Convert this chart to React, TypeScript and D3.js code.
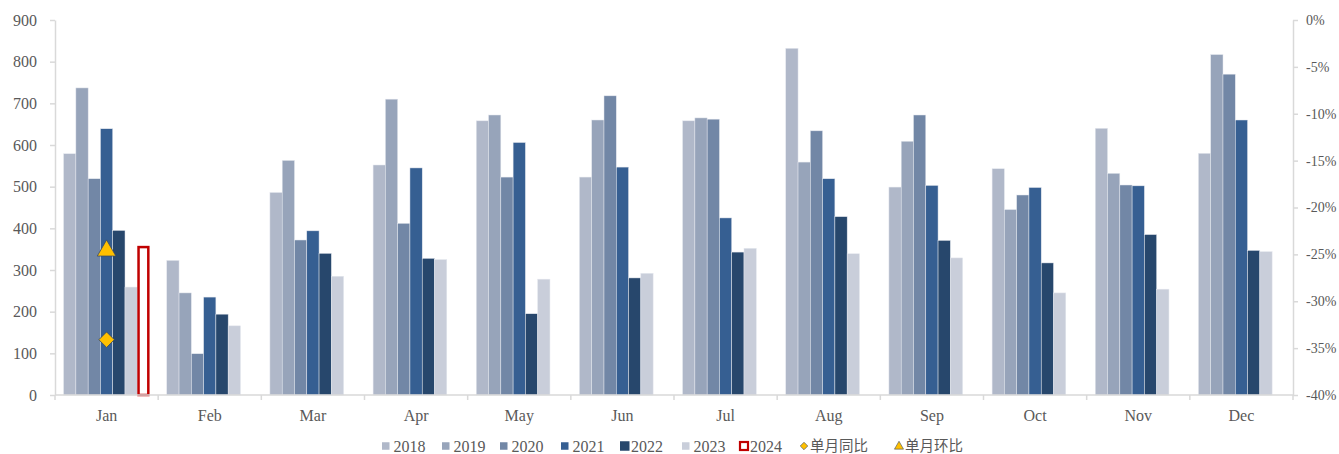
import { useEffect, useRef } from "react";
import * as d3 from "d3";

const months = ["Jan", "Feb", "Mar", "Apr", "May", "Jun", "Jul", "Aug", "Sep", "Oct", "Nov", "Dec"];
const years = ["2018", "2019", "2020", "2021", "2022", "2023", "2024"];

const v2018 = [579, 323, 486, 552, 658, 523, 658, 832, 499, 543, 640, 580];
const v2019 = [737, 245, 563, 710, 672, 660, 665, 559, 609, 445, 532, 817];
const v2020 = [519, 99, 372, 412, 523, 718, 662, 634, 672, 480, 504, 770];
const v2021 = [639, 235, 394, 545, 606, 547, 425, 519, 503, 498, 502, 660];
const v2022 = [395, 194, 340, 328, 195, 281, 343, 428, 371, 317, 385, 347];
const v2023 = [259, 166, 285, 325, 278, 292, 352, 339, 329, 245, 254, 344];
const v2024 = [358, null, null, null, null, null, null, null, null, null, null, null];

// right axis, Jan only
const yoy = [-0.341];
const mom = [-0.245];

const leftTicks = [0, 100, 200, 300, 400, 500, 600, 700, 800, 900];
const rightTicks = [0, -0.05, -0.1, -0.15, -0.2, -0.25, -0.3, -0.35, -0.4];

const colors = ["#b0b8c9", "#97a4ba", "#7287a6", "#365f92", "#27476c", "#c9ceda", "#ffffff"];
const font = "'Liberation Serif', 'Times New Roman', serif";
const cjkFont = "'Noto Sans CJK SC', sans-serif";
const textColor = "#595959";
const axisColor = "#d9d9d9";

const App = () => {
  const svgRef = useRef();

  useEffect(() => {
    const width = 1339;
    const height = 454;
    const margin = { top: 20, left: 55, right: 46, bottom: 59 };
    const svg = d3.select(svgRef.current);
    svg.selectAll("*").remove();

    const series = [v2018, v2019, v2020, v2021, v2022, v2023, v2024];
    const bottomY = height - margin.bottom;

    const x0 = d3
      .scaleBand()
      .domain(months)
      .range([margin.left, width - margin.right])
      .paddingInner(0)
      .paddingOuter(0);

    const x1 = d3
      .scaleBand()
      .domain(years)
      .range([0, x0.bandwidth()])
      .paddingInner(0)
      .paddingOuter(0.7);

    const yScale = d3.scaleLinear().domain([0, 900]).range([bottomY, margin.top]);
    const yRight = d3.scaleLinear().domain([-0.4, 0]).range([bottomY, margin.top]);

    // bars
    series.forEach((vals, si) => {
      const g = svg.append("g");
      months.forEach((m, mi) => {
        const v = vals[mi];
        if (v == null) return;
        const bx = x0(m) + x1(years[si]);
        const by = yScale(v);
        if (years[si] === "2024") {
          g.append("rect")
            .attr("x", bx + 1.25)
            .attr("y", by + 1.25)
            .attr("width", x1.bandwidth() - 2.5)
            .attr("height", bottomY - by - 1.25)
            .attr("fill", "#ffffff")
            .attr("stroke", "#c00000")
            .attr("stroke-width", 2.5);
        } else {
          g.append("rect")
            .attr("x", bx)
            .attr("y", by)
            .attr("width", x1.bandwidth())
            .attr("height", bottomY - by)
            .attr("fill", colors[si])
            .attr("stroke", "#e4e7ee")
            .attr("stroke-width", 0.5);
        }
      });
    });

    // left axis
    const yAxis = d3
      .axisLeft(yScale)
      .tickValues(leftTicks)
      .tickSizeInner(5)
      .tickSizeOuter(0)
      .tickPadding(13);
    const gy = svg.append("g").attr("transform", `translate(${margin.left},0)`).call(yAxis);
    gy.select(".domain").attr("stroke", axisColor).attr("stroke-width", 1.5);
    gy.selectAll(".tick line").attr("stroke", axisColor).attr("stroke-width", 1.5);
    gy.selectAll("text")
      .attr("fill", textColor)
      .style("font-family", font)
      .style("font-size", "16px");

    // right axis
    const yAxisR = d3
      .axisRight(yRight)
      .tickValues(rightTicks)
      .tickFormat((d) => `${Math.round(d * 100)}%`)
      .tickSizeInner(5)
      .tickSizeOuter(0)
      .tickPadding(8);
    const gr = svg
      .append("g")
      .attr("transform", `translate(${width - margin.right},0)`)
      .call(yAxisR);
    gr.select(".domain").attr("stroke", axisColor).attr("stroke-width", 1.5);
    gr.selectAll(".tick line").attr("stroke", axisColor).attr("stroke-width", 1.5);
    gr.selectAll("text")
      .attr("fill", textColor)
      .style("font-family", font)
      .style("font-size", "14px");

    // bottom axis
    const gx = svg.append("g");
    gx.append("line")
      .attr("x1", margin.left)
      .attr("x2", width - margin.right)
      .attr("y1", bottomY)
      .attr("y2", bottomY)
      .attr("stroke", axisColor)
      .attr("stroke-width", 1.5);
    const bounds = months.map((m) => x0(m)).concat([x0(months[months.length - 1]) + x0.bandwidth()]);
    bounds.forEach((bx) => {
      gx.append("line")
        .attr("x1", bx)
        .attr("x2", bx)
        .attr("y1", bottomY)
        .attr("y2", bottomY + 5)
        .attr("stroke", axisColor)
        .attr("stroke-width", 1.5);
    });
    months.forEach((m) => {
      gx.append("text")
        .attr("x", x0(m) + x0.bandwidth() / 2)
        .attr("y", bottomY + 26)
        .attr("text-anchor", "middle")
        .attr("fill", textColor)
        .style("font-family", font)
        .style("font-size", "16px")
        .text(m);
    });

    // markers on the right axis
    const markerFill = "#ffc000";
    const markerStroke = "#3d4b5f";
    yoy.forEach((v, i) => {
      const cx = x0(months[i]) + x0.bandwidth() / 2;
      svg.append("path")
        .attr("d", d3.symbol(d3.symbolSquare, 120)())
        .attr("transform", `translate(${cx},${yRight(v)}) rotate(45)`)
        .attr("fill", markerFill)
        .attr("stroke", markerStroke)
        .attr("stroke-width", 0.8);
    });
    mom.forEach((v, i) => {
      const cx = x0(months[i]) + x0.bandwidth() / 2;
      svg.append("path")
        .attr("d", d3.symbol(d3.symbolTriangle, 150)())
        .attr("transform", `translate(${cx},${yRight(v) + 1})`)
        .attr("fill", markerFill)
        .attr("stroke", markerStroke)
        .attr("stroke-width", 0.8);
    });

    // legend
    const legendY = 446;
    const legendX = [382, 442, 500, 561, 620, 682, 739, 800, 895];
    const legendLabels = years.concat(["单月同比", "单月环比"]);
    const lg = svg.append("g");
    legendLabels.forEach((label, i) => {
      const lx = legendX[i];
      if (i < 6) {
        const s = i === 4 ? 9.5 : 7.5;
        lg.append("rect")
          .attr("x", lx)
          .attr("y", legendY - s / 2)
          .attr("width", s)
          .attr("height", s)
          .attr("fill", colors[i]);
      } else if (i === 6) {
        lg.append("rect")
          .attr("x", lx + 1)
          .attr("y", legendY - 4)
          .attr("width", 8)
          .attr("height", 8)
          .attr("fill", "#ffffff")
          .attr("stroke", "#c00000")
          .attr("stroke-width", 2.2);
      } else if (i === 7) {
        lg.append("path")
          .attr("d", d3.symbol(d3.symbolSquare, 28)())
          .attr("transform", `translate(${lx + 4},${legendY}) rotate(45)`)
          .attr("fill", markerFill)
          .attr("stroke", markerStroke)
          .attr("stroke-width", 0.6);
      } else {
        lg.append("path")
          .attr("d", d3.symbol(d3.symbolTriangle, 36)())
          .attr("transform", `translate(${lx + 4},${legendY + 0.5})`)
          .attr("fill", markerFill)
          .attr("stroke", markerStroke)
          .attr("stroke-width", 0.6);
      }
      const isCjk = i > 6;
      lg.append("text")
        .attr("x", lx + (isCjk ? 10 : i === 4 || i === 6 ? 11 : 11.5))
        .attr("y", legendY)
        .attr("dy", "0.35em")
        .attr("fill", textColor)
        .style("font-family", isCjk ? cjkFont : font)
        .style("font-size", isCjk ? "14.5px" : "16px")
        .text(label);
    });
  }, []);

  return (
    <div style={{ position: "absolute", left: 0, top: 0 }}>
      <svg ref={svgRef} width={1339} height={454} style={{ display: "block", background: "#ffffff" }} />
    </div>
  );
};

export default App;
